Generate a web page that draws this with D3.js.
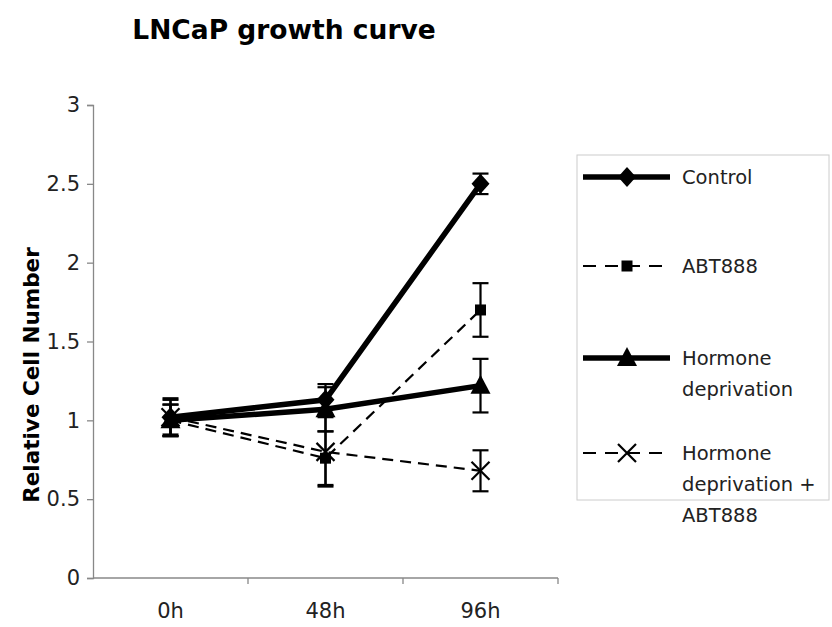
<!DOCTYPE html>
<html><head><meta charset="utf-8">
<script src="https://cdn.jsdelivr.net/npm/d3@7"></script>
<style>body{margin:0;background:#fff}svg{display:block}</style>
</head><body>
<script>
const categories = ["0h", "48h", "96h"];
const yTicks = [0, 0.5, 1, 1.5, 2, 2.5, 3];
const seriesNames = ["Control", "ABT888", "Hormone deprivation", "Hormone deprivation + ABT888"];
const controlValues = [1.02, 1.13, 2.50];
const controlErrors = [0.11, 0.10, 0.065];
const abtValues = [1.00, 0.76, 1.70];
const abtErrors = [0.10, 0.17, 0.17];
const hormoneValues = [1.00, 1.07, 1.22];
const hormoneErrors = [0.10, 0.14, 0.17];
const hdAbtValues = [1.02, 0.80, 0.68];
const hdAbtErrors = [0.12, 0.22, 0.13];

const W = 832, H = 627;
const svg = d3.select("body").append("svg").attr("width", W).attr("height", H);
const font = "Verdana, 'DejaVu Sans', sans-serif";

const x = d3.scaleBand().domain(categories).range([93, 558]);
const y = d3.scaleLinear().domain([0, 3]).range([578, 105]);

// title
svg.append("text").attr("x", 284).attr("y", 39).attr("text-anchor", "middle")
  .attr("font-family", font).attr("font-weight", "bold").attr("font-size", 26.5).text("LNCaP growth curve");

// y axis
const yAxis = d3.axisLeft(y).tickValues(yTicks).tickSize(6).tickPadding(7).tickFormat(d3.format("~g"));
const gy = svg.append("g").attr("transform", "translate(93,0)").call(yAxis);
gy.select(".domain").attr("stroke", "#888").attr("stroke-width", 1.3);
gy.selectAll(".tick line").attr("stroke", "#888").attr("stroke-width", 1.3);
gy.selectAll(".tick text").attr("font-family", font).attr("font-size", 21).attr("fill", "#222");

// x axis
const gx = svg.append("g").attr("transform", "translate(0,578)");
gx.append("line").attr("x1", 93).attr("x2", 558).attr("stroke", "#888").attr("stroke-width", 1.3);
const bounds = categories.map(c => x(c) + x.bandwidth());
gx.selectAll("line.tk").data(bounds).join("line").attr("class", "tk")
  .attr("x1", d => d).attr("x2", d => d).attr("y1", 0).attr("y2", 6).attr("stroke", "#888").attr("stroke-width", 1.3);
gx.selectAll("text").data(categories).join("text")
  .attr("x", d => x(d) + x.bandwidth() / 2).attr("y", 40).attr("text-anchor", "middle")
  .attr("font-family", font).attr("font-size", 21).attr("fill", "#222").text(d => d);

// y label
svg.append("text").attr("transform", "translate(39,375) rotate(-90)").attr("text-anchor", "middle")
  .attr("font-family", font).attr("font-weight", "bold").attr("font-size", 21.5).text("Relative Cell Number");

const series = [
  {name: seriesNames[0], v: controlValues, e: controlErrors, dash: null, w: 5.5, sym: "diamond"},
  {name: seriesNames[1], v: abtValues, e: abtErrors, dash: "11,7", w: 2.2, sym: "square"},
  {name: seriesNames[2], v: hormoneValues, e: hormoneErrors, dash: null, w: 5.5, sym: "triangle"},
  {name: seriesNames[3], v: hdAbtValues, e: hdAbtErrors, dash: "11,7", w: 2.2, sym: "x"}
];

function marker(g, sym, cx, cy) {
  if (sym === "diamond") g.append("path").attr("d", `M${cx},${cy-10}L${cx+9},${cy}L${cx},${cy+10}L${cx-9},${cy}Z`).attr("fill", "#000");
  else if (sym === "square") g.append("rect").attr("x", cx-5.5).attr("y", cy-5.5).attr("width", 11).attr("height", 11).attr("fill", "#000");
  else if (sym === "triangle") g.append("path").attr("d", `M${cx},${cy-11}L${cx+10},${cy+8}L${cx-10},${cy+8}Z`).attr("fill", "#000");
  else g.append("path").attr("d", `M${cx-9},${cy-9}L${cx+9},${cy+9}M${cx+9},${cy-9}L${cx-9},${cy+9}`).attr("stroke", "#000").attr("stroke-width", 2.2).attr("fill", "none");
}

const cx = c => x(c) + x.bandwidth() / 2;
const plot = svg.append("g");
// error bars
series.forEach(s => {
  categories.forEach((c, i) => {
    const g = plot.append("g").attr("stroke", "#000").attr("stroke-width", 2.2);
    const lo = y(s.v[i] - s.e[i]), hi = y(s.v[i] + s.e[i]);
    g.append("line").attr("x1", cx(c)).attr("x2", cx(c)).attr("y1", lo).attr("y2", hi);
    g.append("line").attr("x1", cx(c) - 8).attr("x2", cx(c) + 8).attr("y1", lo).attr("y2", lo);
    g.append("line").attr("x1", cx(c) - 8).attr("x2", cx(c) + 8).attr("y1", hi).attr("y2", hi);
  });
});
// lines
const line = d3.line().x((d, i) => cx(categories[i])).y(d => y(d));
series.forEach(s => {
  plot.append("path").attr("d", line(s.v)).attr("fill", "none").attr("stroke", "#000")
    .attr("stroke-width", s.w).attr("stroke-dasharray", s.dash);
  categories.forEach((c, i) => marker(plot, s.sym, cx(c), y(s.v[i])));
});

// legend
const lg = svg.append("g");
lg.append("rect").attr("x", 577).attr("y", 155).attr("width", 252).attr("height", 345)
  .attr("fill", "none").attr("stroke", "#ccc").attr("stroke-width", 1);
const legendRows = [
  {lines: ["Control"], y: 177},
  {lines: ["ABT888"], y: 266},
  {lines: ["Hormone", "deprivation"], y: 358},
  {lines: ["Hormone", "deprivation +", "ABT888"], y: 453}
];
series.forEach((s, i) => {
  const r = legendRows[i];
  const ly = r.y;
  lg.append("line").attr("x1", 583).attr("x2", 670).attr("y1", ly).attr("y2", ly)
    .attr("stroke", "#000").attr("stroke-width", s.w).attr("stroke-dasharray", s.dash ? "13,9" : null);
  marker(lg, s.sym, 627, ly);
  const t = lg.append("text").attr("x", 682).attr("y", ly + 7)
    .attr("font-family", font).attr("font-size", 19.5).attr("fill", "#222");
  r.lines.forEach((l, j) => t.append("tspan").attr("x", 682).attr("dy", j === 0 ? 0 : 31).text(l));
});
</script>
</body></html>
